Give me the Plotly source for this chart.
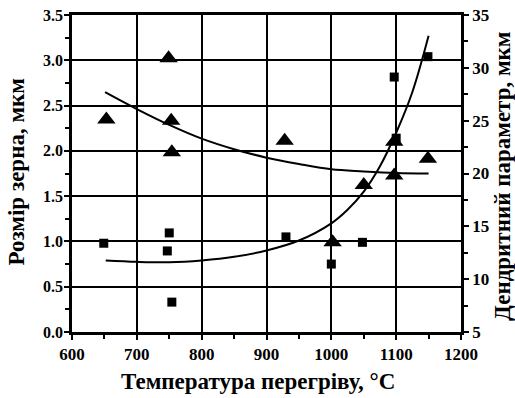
import plotly.graph_objects as go

# Squares: grain size (left axis, мкм)
sq_temp = [649, 747, 750, 754, 930, 1000, 1048, 1097, 1100, 1149]
sq_size = [0.98, 0.895, 1.094, 0.33, 1.05, 0.75, 0.99, 2.815, 2.14, 3.04]

# Triangles: dendrite parameter (right axis, мкм)
tr_temp = [653, 749, 753, 754, 928, 1002, 1050, 1097, 1097, 1149]
tr_param = [25.1, 30.9, 25.0, 22.0, 23.1, 13.5, 18.9, 23.0, 19.8, 21.4]

# Fitted curve for grain size (left axis)
fit1_temp = [652, 700, 750, 800, 850, 900, 950, 1000, 1025, 1050, 1075, 1100, 1125, 1150]
fit1_val = [0.79, 0.775, 0.77, 0.79, 0.83, 0.90, 1.01, 1.20, 1.35, 1.55, 1.83, 2.2, 2.65, 3.27]

# Fitted curve for dendrite parameter (right axis)
fit2_temp = [651, 700, 750, 800, 850, 900, 950, 1000, 1050, 1100, 1150]
fit2_val = [27.7, 26.1, 24.6, 23.3, 22.3, 21.5, 20.9, 20.4, 20.2, 20.05, 20.0]

x_title = "Температура перегріву, °C"
y_title = "Розмір зерна, мкм"
y2_title = "Дендритний параметр, мкм"

FONT = "Liberation Serif, Times New Roman, serif"

fig = go.Figure()
fig.add_trace(go.Scatter(x=fit1_temp, y=fit1_val, mode="lines",
                         line=dict(color="black", width=2, shape="spline"),
                         showlegend=False))
fig.add_trace(go.Scatter(x=fit2_temp, y=fit2_val, mode="lines", yaxis="y2",
                         line=dict(color="black", width=2, shape="spline"),
                         showlegend=False))
fig.add_trace(go.Scatter(x=sq_temp, y=sq_size, mode="markers",
                         marker=dict(symbol="square", size=9, color="black"),
                         showlegend=False))
fig.add_trace(go.Scatter(x=tr_temp, y=tr_param, mode="markers", yaxis="y2",
                         marker=dict(symbol="triangle-up", size=16, color="black"),
                         showlegend=False))

axis_common = dict(showline=True, linecolor="black", linewidth=2.5,
                   ticks="outside", tickcolor="black", tickwidth=2, ticklen=5,
                   zeroline=False, automargin=False)

title_font = dict(family=FONT, size=23, color="black", weight="bold")

fig.update_layout(
    width=515, height=398,
    margin=dict(l=72, r=54, t=15, b=66),
    paper_bgcolor="white", plot_bgcolor="white",
    showlegend=False,
    xaxis=dict(range=[600, 1200], tick0=600, dtick=100,
               showgrid=True, gridcolor="black", gridwidth=2, mirror=True,
               minor=dict(dtick=50, ticks="outside", ticklen=4, tickwidth=2,
                          tickcolor="black", showgrid=False),
               tickfont=dict(family=FONT, size=17, color="black", weight="bold"),
               **axis_common),
    yaxis=dict(range=[0, 3.5], tick0=0, dtick=0.5, tickformat=".1f",
               showgrid=True, gridcolor="black", gridwidth=2,
               ticklabelstandoff=-2,
               minor=dict(dtick=0.25, ticks="outside", ticklen=4, tickwidth=2,
                          tickcolor="black", showgrid=False),
               tickfont=dict(family=FONT, size=16, color="black", weight="bold"),
               **axis_common),
    yaxis2=dict(range=[5, 35], tick0=5, dtick=5, overlaying="y", side="right",
                showgrid=False,
                minor=dict(dtick=2.5, ticks="outside", ticklen=4, tickwidth=2,
                           tickcolor="black", showgrid=False),
                tickfont=dict(family=FONT, size=17, color="black", weight="bold"),
                **axis_common),
    annotations=[
        dict(text=x_title, xref="paper", yref="paper", x=0.4777, y=-0.157,
             xanchor="center", yanchor="middle", showarrow=False, font=title_font),
        dict(text=y_title, xref="paper", yref="paper", x=-0.1414, y=0.506,
             xanchor="center", yanchor="middle", textangle=-90, showarrow=False,
             font=title_font),
        dict(text=y2_title, xref="paper", yref="paper", x=1.105, y=0.492,
             xanchor="center", yanchor="middle", textangle=-90, showarrow=False,
             font=title_font),
    ],
)

fig.write_html("out.html")
